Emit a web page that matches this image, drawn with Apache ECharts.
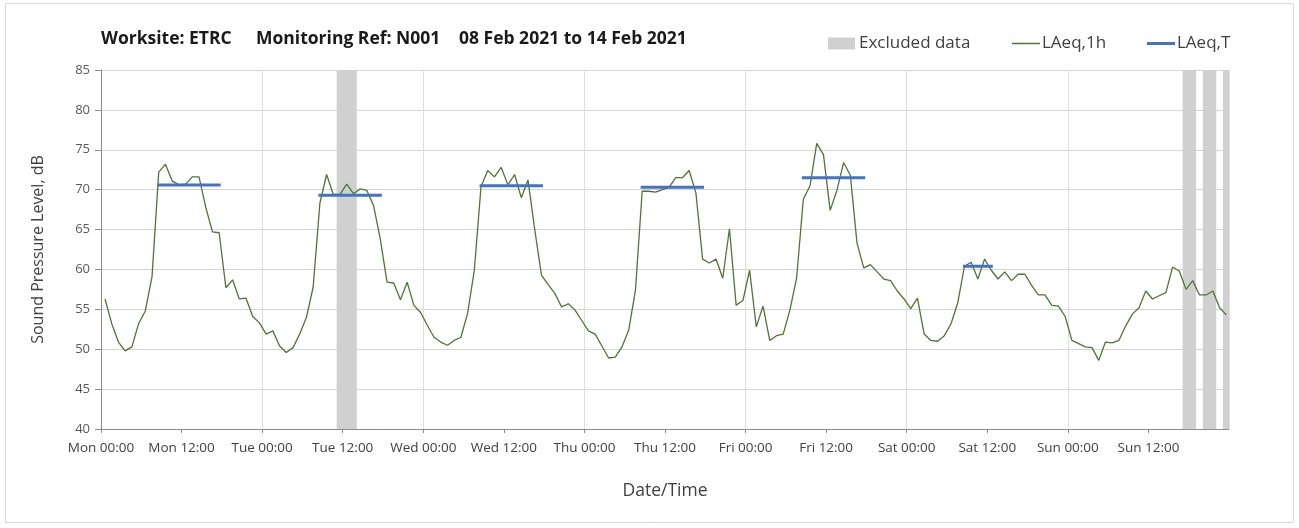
<!DOCTYPE html>
<html>
<head>
<meta charset="utf-8">
<script src="https://cdn.jsdelivr.net/npm/echarts@6/dist/echarts.min.js"></script>
<style>
  html, body { margin: 0; padding: 0; background: #ffffff; }
  #chart { width: 1299px; height: 528px; }
</style>
</head>
<body>
<div id="chart"></div>
<script>
// ---------------- DATA ----------------
// Hourly LAeq,1h values, Mon 08 Feb 2021 00:00 onwards (168 hours)
const laeq1h = [
  56.3, 53.2, 50.9, 49.8, 50.3, 53.2, 54.8, 59.1, 72.2, 73.2, 71.1, 70.6,
  70.7, 71.6, 71.6, 67.8, 64.7, 64.6, 57.7, 58.7, 56.3, 56.4, 54.1, 53.3,
  51.9, 52.3, 50.4, 49.6, 50.2, 51.9, 54.0, 57.8, 68.3, 71.9, 69.4, 69.4,
  70.7, 69.5, 70.1, 69.9, 68.0, 63.8, 58.4, 58.3, 56.2, 58.4, 55.5, 54.6,
  53.0, 51.5, 50.9, 50.5, 51.1, 51.5, 54.5, 59.9, 70.4, 72.4, 71.6, 72.8,
  70.6, 71.9, 69.0, 71.2, 65.0, 59.3, 58.1, 57.0, 55.3, 55.7, 54.9, 53.6,
  52.3, 51.9, 50.4, 48.9, 49.0, 50.3, 52.4, 57.4, 69.8, 69.8, 69.7, 70.0,
  70.3, 71.5, 71.5, 72.4, 69.6, 61.3, 60.8, 61.3, 58.9, 65.1, 55.5, 56.1,
  59.9, 52.8, 55.4, 51.1, 51.7, 51.9, 54.9, 58.9, 68.8, 70.5, 75.8, 74.4,
  67.4, 69.9, 73.4, 71.8, 63.3, 60.2, 60.6, 59.7, 58.8, 58.6, 57.3, 56.3,
  55.1, 56.4, 51.9, 51.1, 51.0, 51.7, 53.2, 55.8, 60.4, 60.9, 58.8, 61.3,
  59.9, 58.8, 59.7, 58.6, 59.4, 59.4, 58.0, 56.8, 56.8, 55.5, 55.4, 54.1,
  51.1, 50.7, 50.3, 50.2, 48.6, 50.9, 50.8, 51.1, 52.9, 54.4, 55.2, 57.3,
  56.3, 56.7, 57.1, 60.3, 59.8, 57.5, 58.6, 56.8, 56.8, 57.3, 55.2, 54.3
];
// LAeq,T periods (first and last hour index) and levels
const periodFirstHour = [8, 32, 56, 80, 104, 128];
const periodLastHour  = [17, 41, 65, 89, 113, 132];
const laeqT           = [70.6, 69.3, 70.5, 70.3, 71.5, 60.4];
// Excluded data (first and last hour index)
const excludedFirstHour = [35, 161, 164, 167];
const excludedLastHour  = [37, 162, 165, 167];
// Axis tick labels (every 12 h)
const xTickLabels = ['Mon 00:00', 'Mon 12:00', 'Tue 00:00', 'Tue 12:00', 'Wed 00:00', 'Wed 12:00',
  'Thu 00:00', 'Thu 12:00', 'Fri 00:00', 'Fri 12:00', 'Sat 00:00', 'Sat 12:00', 'Sun 00:00', 'Sun 12:00'];
const titleParts = ['Worksite: ETRC', 'Monitoring Ref: N001', '08 Feb 2021 to 14 Feb 2021'];

// ---------------- CHART ----------------
const pointOffset = 0.6;   // position of each hourly value within its hour
const X_MIN = 0, X_MAX = 168, Y_MIN = 40, Y_MAX = 85;
const FONT = '"Open Sans", "Noto Sans", sans-serif';

const lineData = laeq1h.map((v, i) => [i + pointOffset, v]);
const tData = [];
laeqT.forEach((v, k) => {
  tData.push([periodFirstHour[k] + pointOffset, v]);
  tData.push([periodLastHour[k] + pointOffset, v]);
  tData.push([periodLastHour[k] + pointOffset + 0.01, '-']);
});
const exData = excludedFirstHour.map((f, k) => [
  Math.max(X_MIN, f + pointOffset - 0.5),
  Math.min(X_MAX, excludedLastHour[k] + pointOffset + 0.5)
]);

const chart = echarts.init(document.getElementById('chart'), null, { renderer: 'canvas' });
const titleLefts = [101, 256, 459];
const legendText = { fontFamily: FONT, fontSize: 17, color: '#404040' };
chart.setOption({
  animation: false,
  backgroundColor: '#ffffff',
  textStyle: { fontFamily: FONT },
  graphic: [{
    type: 'rect', z: -10,
    shape: { x: 5.5, y: 3.5, width: 1288, height: 519 },
    style: { fill: '#ffffff', stroke: '#d9d9d9', lineWidth: 1 }
  }],
  title: titleParts.map((t, i) => ({
    text: t, left: titleLefts[i], top: 30, padding: 0,
    textStyle: { fontFamily: FONT, fontSize: 17.5, fontWeight: 'bold', color: '#1a1a1a' }
  })),
  legend: [
    { data: [{ name: 'Excluded data', icon: 'rect' }], left: 828, top: 35, padding: 0,
      itemWidth: 27, itemHeight: 12, itemGap: 4,
      textStyle: Object.assign({ padding: [0, 0, 0, -1] }, legendText) },
    { data: [{ name: 'LAeq,1h', icon: 'rect' }], left: 1012, top: 35, padding: 0,
      itemWidth: 28, itemHeight: 1.5, itemGap: 2,
      textStyle: Object.assign({ padding: [0, 0, 0, -3] }, legendText) },
    { data: [{ name: 'LAeq,T', icon: 'rect' }], left: 1147, top: 35, padding: 0,
      itemWidth: 28, itemHeight: 3, itemGap: 2,
      textStyle: Object.assign({ padding: [0, 0, 0, -3] }, legendText) }
  ],
  grid: { left: 101, right: 70, top: 70, bottom: 99, containLabel: false },
  xAxis: [{
    type: 'value', min: X_MIN, max: X_MAX, interval: 12,
    name: 'Date/Time', nameLocation: 'middle', nameGap: 53,
    nameTextStyle: { fontFamily: FONT, fontSize: 17.5, color: '#404040' },
    axisLine: { show: true, onZero: false, lineStyle: { color: '#8c8c8c', width: 1 } },
    axisTick: { show: true, length: 4, lineStyle: { color: '#8c8c8c' } },
    axisLabel: {
      fontFamily: FONT, fontSize: 13.5, color: '#404040', margin: 12, showMaxLabel: false,
      formatter: v => xTickLabels[Math.round(v / 12)] || ''
    },
    splitLine: { show: false }
  }, {
    type: 'value', min: X_MIN, max: X_MAX, interval: 24, position: 'bottom',
    axisLine: { show: false }, axisTick: { show: false }, axisLabel: { show: false },
    splitLine: { show: true, lineStyle: { color: '#dedede', width: 1 } }
  }],
  yAxis: {
    type: 'value', min: Y_MIN, max: Y_MAX, interval: 5,
    name: 'Sound Pressure Level, dB', nameLocation: 'middle', nameGap: 55, nameRotate: 90,
    nameTextStyle: { fontFamily: FONT, fontSize: 16, color: '#404040' },
    axisLine: { show: true, lineStyle: { color: '#8c8c8c', width: 1 } },
    axisTick: { show: true, length: 6, lineStyle: { color: '#8c8c8c' } },
    axisLabel: { fontFamily: FONT, fontSize: 13, color: '#595959', margin: 11 },
    splitLine: { show: true, lineStyle: { color: '#d4d4d4', width: 1 } }
  },
  series: [{
    name: 'Excluded data', type: 'custom', xAxisIndex: 0, z: 1,
    itemStyle: { color: '#d0d0d0' },
    encode: { x: [0, 1] },
    data: exData,
    renderItem: (params, api) => {
      const p0 = api.coord([api.value(0), Y_MAX]);
      const p1 = api.coord([api.value(1), Y_MIN]);
      return { type: 'rect', shape: { x: p0[0], y: p0[1], width: p1[0] - p0[0], height: p1[1] - p0[1] },
        style: { fill: '#d0d0d0' } };
    }
  }, {
    name: 'LAeq,1h', type: 'line', xAxisIndex: 0, z: 3, symbol: 'none', showSymbol: false,
    data: lineData,
    itemStyle: { color: '#4e7532' },
    lineStyle: { color: '#4e7532', width: 1.3 }
  }, {
    name: 'LAeq,T', type: 'line', xAxisIndex: 0, z: 4, symbol: 'none', showSymbol: false,
    data: tData, connectNulls: false,
    itemStyle: { color: '#4472c4' },
    lineStyle: { color: '#4472c4', width: 3, cap: 'square' }
  }]
});
</script>
</body>
</html>
